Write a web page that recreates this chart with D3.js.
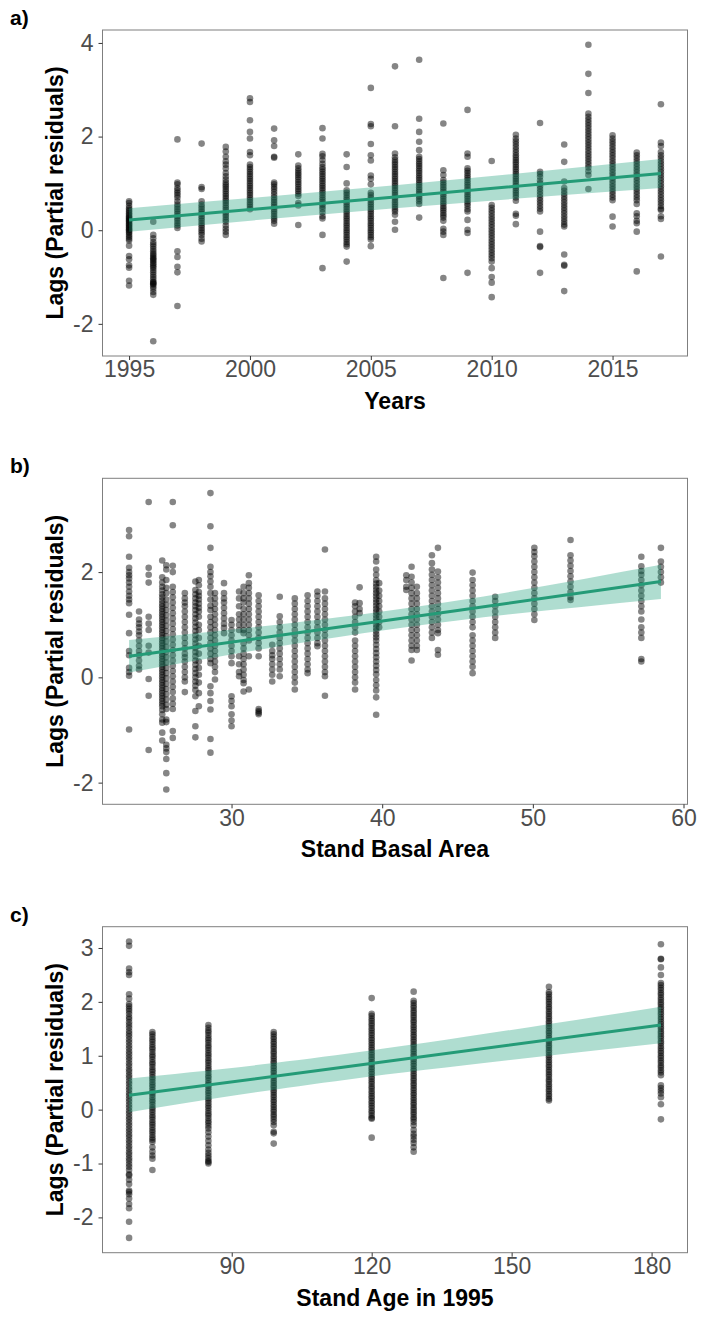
<!DOCTYPE html>
<html>
<head>
<meta charset="utf-8">
<script src="https://cdn.jsdelivr.net/npm/d3@7"></script>
<style>
  body { margin: 0; background: #fff; }
  text { font-family: "Liberation Sans", Arial, Helvetica, sans-serif; }
</style>
</head>
<body>
<script>
// ---- panel a : lags by year ----
var yearsA = [1995,1996,1997,1998,1999,2000,2001,2002,2003,2004,2005,2006,2007,2008,2009,2010,2011,2012,2013,2014,2015,2016,2017];
var lagsA = [
  [0.62,0.58,0.52,0.47,0.43,0.4,0.36,0.33,0.3,0.27,0.25,0.22,0.2,0.18,0.15,0.12,0.1,0.07,0.05,0.02,0,-0.03,-0.06,-0.1,-0.14,-0.18,-0.22,-0.33,-0.55,-0.62,-0.75,-0.8,-1.08,-1.18],
  [0.18,-0.1,-0.17,-0.25,-0.3,-0.35,-0.4,-0.45,-0.5,-0.53,-0.57,-0.6,-0.63,-0.66,-0.7,-0.73,-0.77,-0.8,-0.85,-0.9,-0.95,-1.0,-1.05,-1.1,-1.12,-1.14,-1.16,-1.2,-1.25,-1.32,-1.38,-2.37],
  [1.94,1.02,0.98,0.9,0.85,0.8,0.75,0.7,0.62,0.55,0.5,0.45,0.4,0.35,0.3,0.25,0.2,0.15,0.1,0.05,-0.45,-0.57,-0.78,-0.9,-1.62],
  [1.85,0.92,0.88,0.62,0.55,0.5,0.45,0.4,0.35,0.3,0.25,0.2,0.15,0.1,0.05,0,-0.05,-0.1,-0.18,-0.24],
  [1.78,1.68,1.57,1.47,1.4,1.32,1.22,1.15,1.08,1.02,0.97,0.93,0.88,0.83,0.78,0.73,0.68,0.63,0.58,0.53,0.48,0.43,0.38,0.33,0.28,0.23,0.18,0.1,0.03,-0.03,-0.1],
  [2.82,2.74,2.35,2.1,1.96,1.67,1.6,1.4,1.35,1.3,1.25,1.2,1.15,1.1,1.05,1.0,0.95,0.9,0.85,0.8,0.75,0.7,0.65,0.6,0.55,0.5,0.45],
  [2.17,1.92,1.8,1.57,1.55,1.02,0.98,0.93,0.88,0.82,0.76,0.7,0.65,0.6,0.55,0.5,0.45,0.4,0.35,0.3,0.25,0.2,0.14],
  [1.62,1.38,1.32,1.27,1.22,1.18,1.13,1.08,1.03,0.98,0.93,0.88,0.83,0.78,0.73,0.58,0.53,0.11],
  [2.18,1.96,1.63,1.58,1.5,1.42,1.35,1.3,1.25,1.2,1.15,1.1,1.05,1.0,0.95,0.9,0.85,0.8,0.75,0.7,0.65,0.6,0.55,0.5,0.45,0.38,0.3,0.25,-0.1,-0.81],
  [1.62,1.35,1.0,0.85,0.8,0.75,0.7,0.65,0.6,0.55,0.5,0.45,0.4,0.35,0.3,0.25,0.2,0.15,0.1,0.05,0,-0.05,-0.1,-0.15,-0.2,-0.25,-0.3,-0.35,-0.67],
  [3.04,2.27,2.22,1.84,1.6,1.49,1.17,1.1,0.98,0.8,0.75,0.7,0.65,0.6,0.55,0.5,0.45,0.4,0.35,0.3,0.25,0.2,0.15,0.1,0.05,0,-0.05,-0.1,-0.15,-0.2,-0.34],
  [3.5,2.22,1.64,1.56,1.5,1.45,1.4,1.35,1.3,1.25,1.2,1.15,1.1,1.05,1.0,0.95,0.9,0.85,0.8,0.75,0.7,0.65,0.6,0.55,0.5,0.45,0.4,0.33,0.18,0.01],
  [3.64,2.38,2.1,1.89,1.71,1.57,1.52,1.47,1.42,1.37,1.32,1.27,1.22,1.17,1.12,1.07,1.02,0.97,0.92,0.87,0.82,0.77,0.72,0.67,0.62,0.56,0.27],
  [2.28,1.28,1.18,1.07,1.02,0.97,0.92,0.87,0.82,0.77,0.72,0.67,0.62,0.57,0.52,0.47,0.42,0.37,0.32,0.27,0.2,0.03,-0.03,-0.1,-1.02],
  [2.57,1.64,1.57,1.32,1.27,1.22,1.17,1.12,1.07,1.02,0.97,0.92,0.87,0.82,0.77,0.72,0.67,0.62,0.57,0.52,0.45,0.4,0.22,0.01,-0.06,-0.91],
  [1.48,0.54,0.48,0.42,0.36,0.3,0.24,0.18,0.12,0.06,0,-0.06,-0.12,-0.18,-0.24,-0.3,-0.36,-0.42,-0.48,-0.54,-0.6,-0.67,-0.81,-1.0,-1.12,-1.43],
  [2.04,1.96,1.9,1.84,1.78,1.72,1.66,1.6,1.55,1.5,1.45,1.4,1.35,1.3,1.25,1.2,1.15,1.1,1.05,1.0,0.95,0.9,0.85,0.8,0.75,0.7,0.63,0.35,0.31,0.13],
  [2.29,1.25,1.2,1.14,1.06,1.0,0.94,0.88,0.82,0.76,0.7,0.64,0.58,0.52,0.46,0.4,-0.03,-0.34,-0.36,-0.91],
  [1.83,1.46,1.04,0.9,0.84,0.78,0.72,0.66,0.6,0.54,0.48,0.42,0.36,0.3,0.24,0.18,0.12,0.08,-0.52,-0.74,-0.76,-1.3],
  [3.96,3.34,2.93,2.49,2.42,2.36,2.3,2.24,2.18,2.12,2.06,2.0,1.94,1.88,1.82,1.76,1.7,1.64,1.58,1.52,1.46,1.4,1.34,1.26,1.18,0.88],
  [2.03,1.96,1.9,1.84,1.78,1.72,1.66,1.6,1.54,1.48,1.42,1.36,1.3,1.24,1.18,1.12,1.06,1.0,0.94,0.88,0.82,0.76,0.7,0.64,0.29,0.08],
  [1.66,1.6,1.54,1.48,1.42,1.36,1.3,1.24,1.18,1.12,1.06,1.0,0.94,0.88,0.82,0.76,0.7,0.64,0.56,0.36,0.3,0.2,0.15,-0.03,-0.88],
  [2.69,1.87,1.8,1.67,1.6,1.54,1.48,1.42,1.36,1.3,1.24,1.18,1.12,1.06,1.0,0.94,0.88,0.82,0.76,0.7,0.64,0.58,0.52,0.46,0.43,0.3,0.24,-0.56]
];
var fitXA = [1995, 2006, 2017];
var fitYA = [0.22, 0.71, 1.21];
var fitLoA = [-0.03, 0.47, 0.9];
var fitHiA = [0.47, 0.96, 1.52];
var xTicksA = [1995, 2000, 2005, 2010, 2015];
var yTicksA = [-2, 0, 2, 4];

// ---- panel b : lags by stand basal area ----
var basalB = [23.2,23.86,24.5,25.4,25.67,26.1,26.9,27.6,27.83,28.6,28.9,29.5,30.0,30.5,30.8,31.15,31.8,32.7,33.2,34.2,35.05,35.7,36.2,38.2,38.5,39.6,39.8,41.6,41.95,42.3,43.3,43.7,46.0,47.5,50.1,52.5,57.2,58.5];
var lagsB = [
  [2.8,2.68,2.29,2.08,2.0,1.94,1.88,1.8,1.72,1.63,1.55,1.48,1.41,1.19,0.84,0.5,0.42,0.18,0.1,0.03,-0.99],
  [1.25,1.1,1.02,0.95,0.87,0.8,0.7,0.6,0.5,0.42,0.32,0.22,0.15],
  [3.33,2.08,1.95,1.8,1.15,1.02,0.9,0.6,0.47,-0.03,-0.35,-1.38],
  [2.22,1.9,1.8,1.72,1.65,1.58,1.52,1.46,1.4,1.35,1.3,1.25,1.2,1.15,1.1,1.05,1.0,0.95,0.9,0.85,0.8,0.75,0.7,0.65,0.6,0.55,0.5,0.45,0.4,0.35,0.3,0.25,0.2,0.15,0.1,0.05,0,-0.05,-0.1,-0.15,-0.2,-0.25,-0.3,-0.35,-0.4,-0.45,-0.5,-0.55,-0.62,-0.7,-0.8,-0.86,-1.05,-1.2],
  [2.13,2.05,1.85,1.7,1.6,1.48,1.38,1.28,1.18,1.08,0.98,0.88,0.78,0.68,0.58,0.48,0.38,0.28,0.18,0.08,-0.02,-0.12,-0.22,-0.32,-0.42,-0.52,-0.6,-0.8,-0.85,-1.28,-1.35,-1.42,-1.55,-1.82,-2.13],
  [3.33,2.89,2.12,2.0,1.72,1.62,1.52,1.42,1.32,1.22,1.12,1.02,0.92,0.82,0.72,0.62,0.52,0.42,0.32,0.22,0.12,0.02,-0.08,-0.18,-0.28,-0.4,-0.5,-0.6,-1.02,-1.15],
  [1.6,1.5,1.42,1.35,1.25,1.15,1.05,0.95,0.85,0.75,0.65,0.55,0.45,0.38,0.3,0.2,0.1,0,-0.08,-0.28],
  [1.82,1.66,1.58,1.5,1.42,1.35,1.28,1.2,1.12,1.04,0.96,0.88,0.8,0.72,0.64,0.56,0.48,0.4,0.32,0.24,0.16,0.08,0,-0.08,-0.16,-0.24,-0.36,-0.64,-0.93,-1.14],
  [1.85,1.75,1.62,1.55,1.48,1.4,1.32,1.25,1.15,1.0,0.9,0.75,0.6,0.45,0.3,0.18,0.05,-0.1,-0.3,-0.55],
  [3.5,2.87,2.46,2.1,2.0,1.92,1.82,1.72,1.6,1.48,1.36,1.28,1.15,1.05,0.95,0.85,0.75,0.65,0.55,0.45,0.35,0.27,-0.17,-0.3,-0.45,-0.61,-1.17,-1.43],
  [1.6,1.5,1.4,1.3,1.2,1.1,1.0,0.9,0.8,0.7,0.6,0.5,0.4,0.3,0.2,0.1,-0.04],
  [1.79,1.6,1.5,1.42,1.32,1.22,1.12,1.02,0.94,0.84],
  [1.09,1.0,0.9,0.8,0.7,0.6,0.5,0.4,0.27,-0.36,-0.45,-0.55,-0.7,-0.82,-0.93],
  [1.63,1.5,1.35,1.2,1.1,1.0,0.9,0.4,0.25,0.1,0.02],
  [1.72,1.6,1.5,1.42,1.3,1.2,1.1,1.0,0.9,0.84,0.65,0.55,0.45,0.35,0.25,0.15,0.05,-0.05,-0.11,-0.27],
  [1.94,1.79,1.7,1.6,1.5,1.4,1.3,1.2,1.1,1.0,0.9,0.8,0.7,0.4,-0.23],
  [1.56,1.45,1.35,1.25,1.15,1.05,0.95,0.85,0.75,0.65,0.55,0.4,-0.6,-0.64,-0.67,-0.7],
  [0.62,0.5,0.42,0.35,0.25,0.15,0.05,-0.08],
  [1.53,1.16,1.05,0.95,0.85,0.75,0.65,0.55,0.45,0.35,0.25,0.15,0.02],
  [1.5,1.4,1.3,1.2,1.1,1.0,0.9,0.8,0.7,0.6,0.5,0.4,0.3,0.2,0.1,0,-0.1,-0.23],
  [1.56,1.45,1.35,1.25,1.15,1.05,0.95,0.85,0.75,0.65,0.55,0.45,0.35,0.25,0.15,0.08],
  [1.63,1.55,1.45,1.35,1.25,1.15,1.05,0.95,0.85,0.75,0.65,0.59],
  [2.43,1.63,1.5,1.4,1.3,1.2,1.1,1.0,0.9,0.8,0.7,0.6,0.5,0.4,0.3,0.2,0.1,0.02,-0.35],
  [1.42,1.35,1.25,1.15,1.05,0.95,0.85,0.7,0.6,0.5,0.4,0.3,0.2,0.1,0,-0.1,-0.23],
  [1.71,1.41,1.3,1.22],
  [2.29,2.2,2.05,1.95,1.85,1.78,1.72,1.66,1.6,1.54,1.48,1.42,1.36,1.3,1.24,1.18,1.12,1.06,1.0,0.94,0.88,0.82,0.76,0.7,0.62,0.54,0.46,0.38,0.3,0.22,0.14,0.06,-0.05,-0.15,-0.25,-0.38,-0.71],
  [1.79,1.65,1.55,1.45,1.35,1.25,1.15,1.05,0.95],
  [1.94,1.85,1.72,1.66],
  [2.1,1.91,1.8,1.7,1.6,1.5,1.4,1.3,1.2,1.1,1.0,0.9,0.8,0.7,0.6,0.52,0.32],
  [1.72,1.6,1.5,1.4,1.3,1.2,1.1,1.0,0.9,0.8,0.7,0.6,0.52],
  [2.32,2.17,2.05,1.95,1.85,1.75,1.65,1.55,1.45,1.35,1.25,1.15,1.05,0.95,0.85,0.75],
  [2.46,2.01,1.9,1.8,1.7,1.6,1.5,1.4,1.3,1.2,1.1,1.0,0.9,0.84,0.52,0.43],
  [1.99,1.85,1.75,1.65,1.55,1.45,1.35,1.25,1.15,1.05,0.95,0.8,0.7,0.6,0.5,0.4,0.3,0.2,0.08],
  [1.53,1.45,1.35,1.25,1.15,1.05,0.95,0.85,0.75],
  [2.46,2.38,2.3,2.2,2.1,2.0,1.9,1.8,1.7,1.6,1.5,1.4,1.3,1.2,1.09],
  [2.61,2.32,2.22,2.12,2.02,1.92,1.82,1.72,1.62,1.52,1.47],
  [2.29,2.11,2.02,1.95,1.85,1.75,1.65,1.55,1.45,1.35,1.25,1.1,0.95,0.85,0.75,0.35,0.3],
  [2.46,2.2,2.1,2.0,1.9,1.8]
];
var fitXB = [23.2, 33, 45, 58.5];
var fitYB = [0.40, 0.79, 1.27, 1.82];
var fitLoB = [0.09, 0.58, 1.08, 1.49];
var fitHiB = [0.71, 1.0, 1.46, 2.14];
var xTicksB = [30, 40, 50, 60];
var yTicksB = [-2, 0, 2];

// ---- panel c : lags by stand age in 1995 ----
var ageC = [68, 73, 85, 99, 120, 129, 158, 182];
var lagsC = [
  [3.12,3.04,2.62,2.55,2.5,2.14,2.06,1.96,1.92,1.87,1.83,1.78,1.72,1.68,1.62,1.57,1.52,1.46,1.41,1.36,1.3,1.25,1.19,1.14,1.08,1.03,0.97,0.92,0.86,0.81,0.75,0.7,0.64,0.59,0.53,0.48,0.42,0.37,0.31,0.26,0.2,0.15,0.09,0.04,-0.02,-0.07,-0.13,-0.18,-0.24,-0.29,-0.35,-0.4,-0.46,-0.51,-0.57,-0.62,-0.68,-0.73,-0.79,-0.84,-0.9,-0.95,-1.01,-1.06,-1.12,-1.2,-1.22,-1.3,-1.38,-1.5,-1.53,-1.57,-1.65,-1.75,-1.83,-2.08,-2.38],
  [1.44,1.4,1.35,1.3,1.26,1.21,1.16,1.12,1.07,1.02,0.98,0.93,0.88,0.84,0.79,0.74,0.7,0.65,0.6,0.56,0.51,0.46,0.42,0.37,0.32,0.28,0.23,0.18,0.14,0.09,0.04,0,-0.05,-0.1,-0.14,-0.19,-0.24,-0.28,-0.33,-0.38,-0.42,-0.47,-0.52,-0.56,-0.6,-0.7,-0.78,-0.85,-0.91,-1.12],
  [1.57,1.52,1.47,1.43,1.38,1.33,1.29,1.24,1.19,1.15,1.1,1.05,1.01,0.96,0.91,0.87,0.82,0.77,0.73,0.68,0.63,0.59,0.54,0.49,0.45,0.4,0.35,0.31,0.26,0.21,0.17,0.12,0.07,0.03,-0.02,-0.07,-0.11,-0.16,-0.21,-0.25,-0.3,-0.35,-0.42,-0.5,-0.58,-0.66,-0.74,-0.8,-0.85,-0.9,-0.95,-0.97,-1.0],
  [1.44,1.4,1.35,1.31,1.26,1.22,1.17,1.13,1.08,1.04,0.99,0.95,0.9,0.86,0.81,0.77,0.72,0.68,0.63,0.59,0.54,0.5,0.45,0.41,0.36,0.32,0.27,0.23,0.18,0.14,0.09,0.05,0,-0.04,-0.09,-0.13,-0.18,-0.23,-0.29,-0.41,-0.44,-0.63],
  [2.07,1.78,1.74,1.69,1.65,1.6,1.56,1.51,1.47,1.42,1.38,1.33,1.29,1.24,1.2,1.15,1.11,1.06,1.02,0.97,0.93,0.88,0.84,0.79,0.75,0.7,0.66,0.61,0.57,0.52,0.48,0.43,0.39,0.34,0.3,0.25,0.21,0.16,0.12,0.07,0.03,-0.02,-0.06,-0.11,-0.15,-0.17,-0.52],
  [2.19,2.02,1.98,1.93,1.89,1.84,1.8,1.75,1.71,1.66,1.62,1.57,1.53,1.48,1.44,1.39,1.35,1.3,1.26,1.21,1.17,1.12,1.08,1.03,0.99,0.94,0.9,0.85,0.81,0.76,0.72,0.67,0.63,0.58,0.54,0.49,0.45,0.4,0.36,0.31,0.27,0.22,0.18,0.13,0.09,0.04,0,-0.05,-0.09,-0.14,-0.18,-0.23,-0.29,-0.38,-0.45,-0.5,-0.56,-0.62,-0.7,-0.78],
  [2.28,2.18,2.14,2.09,2.05,2.0,1.96,1.91,1.87,1.82,1.78,1.73,1.69,1.64,1.6,1.55,1.51,1.46,1.42,1.37,1.33,1.28,1.24,1.19,1.15,1.1,1.06,1.01,0.97,0.92,0.88,0.83,0.79,0.74,0.7,0.65,0.61,0.56,0.52,0.47,0.43,0.38,0.34,0.29,0.25,0.2,0.17],
  [3.07,2.8,2.79,2.64,2.5,2.35,2.31,2.26,2.22,2.17,2.13,2.08,2.04,1.99,1.95,1.9,1.86,1.81,1.77,1.72,1.68,1.63,1.59,1.54,1.5,1.45,1.41,1.36,1.32,1.27,1.23,1.18,1.14,1.09,1.05,1.0,0.96,0.91,0.87,0.82,0.78,0.73,0.69,0.64,0.45,0.4,0.35,0.3,0.23,0.1,-0.18]
];
var fitXC = [68, 115, 182];
var fitYC = [0.265, 0.80, 1.57];
var fitLoC = [-0.05, 0.56, 1.23];
var fitHiC = [0.58, 1.04, 1.91];
var xTicksC = [90, 120, 150, 180];
var yTicksC = [-2, -1, 0, 1, 2, 3];

//------------------------------------------------------
var svgWidth = 702;
var svgHeight = 1320;
var plotLeft = 102.5;
var plotRight = 687.5;
var panelHeight = 326;

var svg = d3.select("body")
  .append("svg")
  .attr("width", svgWidth)
  .attr("height", svgHeight);

// ggplot style 5% expansion
function expand(ext) {
  var pad = (ext[1] - ext[0]) * 0.05;
  return [ext[0] - pad, ext[1] + pad];
}

function drawPanel(p) {
  var pts = [];
  p.xs.forEach(function(x, i) {
    p.ys[i].forEach(function(y) { pts.push({x: x, y: y}); });
  });

  var xScale = d3.scaleLinear()
    .domain(expand(d3.extent(p.xs)))
    .range([plotLeft, plotRight]);
  var yScale = d3.scaleLinear()
    .domain(expand(d3.extent(pts, d => d.y)))
    .range([p.top + panelHeight, p.top]);

  var g = svg.append("g");

  // points
  g.append("g").selectAll("circle")
    .data(pts)
    .enter()
    .append("circle")
    .attr("cx", d => xScale(d.x))
    .attr("cy", d => yScale(d.y))
    .attr("r", 3.3)
    .attr("fill", "#000")
    .attr("fill-opacity", 0.48);

  // confidence band + fitted line
  var band = d3.area()
    .x(function(d, i) { return xScale(p.fitX[i]); })
    .y0(function(d, i) { return yScale(p.fitLo[i]); })
    .y1(function(d, i) { return yScale(p.fitHi[i]); })
    .curve(d3.curveNatural);
  g.append("path")
    .datum(p.fitX)
    .attr("d", band)
    .attr("fill", "#1b9e77")
    .attr("fill-opacity", 0.35);

  var line = d3.line()
    .x(function(d, i) { return xScale(p.fitX[i]); })
    .y(function(d, i) { return yScale(p.fitY[i]); });
  g.append("path")
    .datum(p.fitX)
    .attr("d", line)
    .attr("fill", "none")
    .attr("stroke", "#249b77")
    .attr("stroke-width", 3);

  // border
  g.append("rect")
    .attr("x", plotLeft)
    .attr("y", p.top)
    .attr("width", plotRight - plotLeft)
    .attr("height", panelHeight)
    .attr("fill", "none")
    .attr("stroke", "#7f7f7f")
    .attr("stroke-width", 1);

  // axes
  var xAxis = g.append("g")
    .attr("transform", `translate(0, ${p.top + panelHeight})`)
    .call(d3.axisBottom(xScale).tickValues(p.xTicks).tickSize(4).tickPadding(1).tickFormat(d3.format("d")));
  var yAxis = g.append("g")
    .attr("transform", `translate(${plotLeft}, 0)`)
    .call(d3.axisLeft(yScale).tickValues(p.yTicks).tickSize(4).tickPadding(5).tickFormat(d => d < 0 ? "-" + Math.abs(d) : d));
  [xAxis, yAxis].forEach(function(ax) {
    ax.select(".domain").remove();
    ax.selectAll(".tick line").attr("stroke", "#333").attr("stroke-width", 1);
    ax.selectAll(".tick text")
      .attr("fill", "#4d4d4d")
      .style("font-size", "23px")
      .style("font-family", "'Liberation Sans', Arial, sans-serif");
  });

  // titles
  g.append("text")
    .attr("x", (plotLeft + plotRight) / 2)
    .attr("y", p.top + panelHeight + 53)
    .attr("text-anchor", "middle")
    .style("font-size", "23px")
    .style("font-weight", "bold")
    .text(p.xTitle);

  g.append("text")
    .attr("transform", `translate(63, ${p.top + panelHeight / 2}) rotate(-90)`)
    .attr("text-anchor", "middle")
    .style("font-size", "23px")
    .style("font-weight", "bold")
    .text("Lags (Partial residuals)");

  g.append("text")
    .attr("x", 10)
    .attr("y", p.top - 5)
    .style("font-size", "21px")
    .style("font-weight", "bold")
    .text(p.label);
}

drawPanel({label: "a)", top: 30, xs: yearsA, ys: lagsA, fitX: fitXA, fitY: fitYA, fitLo: fitLoA, fitHi: fitHiA,
  xTicks: xTicksA, yTicks: yTicksA, xTitle: "Years"});
drawPanel({label: "b)", top: 478.3, xs: basalB, ys: lagsB, fitX: fitXB, fitY: fitYB, fitLo: fitLoB, fitHi: fitHiB,
  xTicks: xTicksB, yTicks: yTicksB, xTitle: "Stand Basal Area"});
drawPanel({label: "c)", top: 926.7, xs: ageC, ys: lagsC, fitX: fitXC, fitY: fitYC, fitLo: fitLoC, fitHi: fitHiC,
  xTicks: xTicksC, yTicks: yTicksC, xTitle: "Stand Age in 1995"});
</script>
</body>
</html>
